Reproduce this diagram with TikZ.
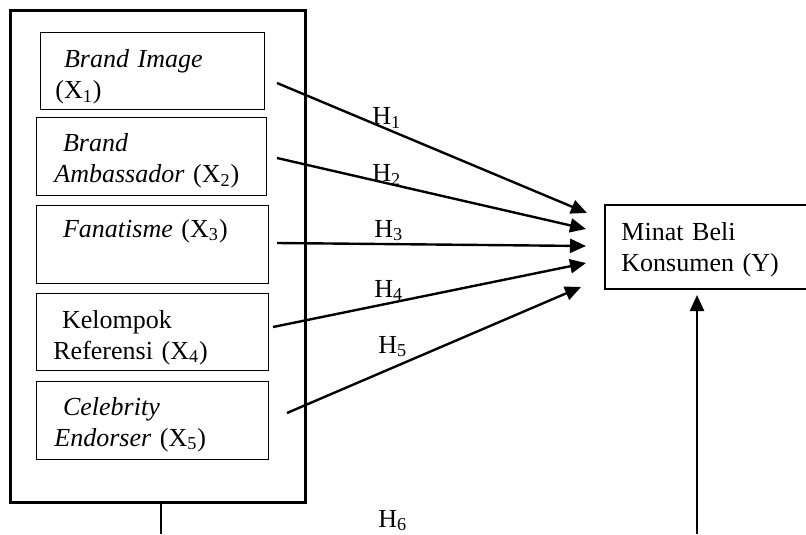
\documentclass[tikz,border=0pt]{standalone}
\usepackage{fontspec}
\setmainfont{Liberation Serif}
\usetikzlibrary{arrows.meta}

\begin{document}
\begin{tikzpicture}[x=0.5pt, y=-0.5pt,
    var/.style={draw, line width=0.5pt, anchor=north west, inner sep=0pt, outer sep=0pt},
    txt/.style={anchor=base west, inner sep=0pt, text width=110pt, align=left},
    hlbl/.style={anchor=base west, inner sep=0pt},
    hyp/.style={-{Triangle[length=8pt, width=7pt]}, line width=1.2pt}]
    \fontsize{13}{15.5}\selectfont
    \useasboundingbox (0,0) rectangle (806,534);
    % frame round the independent variables
    \node[draw, line width=1.5pt, anchor=north west, inner sep=0pt, outer sep=0pt,
          minimum width=147.5pt, minimum height=245.5pt] (frame) at (10,11) {};
    \node[var, minimum width=112pt, minimum height=38.5pt] (x1) at (40,33) {};
    \node[var, minimum width=115pt, minimum height=38.5pt] (x2) at (36,118) {};
    \node[var, minimum width=116pt, minimum height=39pt] (x3) at (36,205) {};
    \node[var, minimum width=116pt, minimum height=38.5pt] (x4) at (36,293) {};
    \node[var, minimum width=116pt, minimum height=39pt] (x5) at (36,381) {};
    \node[txt] (t1) at (55,68) {\ \textit{Brand Image}\\(X\textsubscript{1})};
    \node[txt] (t2) at (54,152) {\ \textit{Brand}\\\textit{Ambassador} (X\textsubscript{2})};
    \node[txt] (t3) at (54,237) {\ \textit{Fanatisme} (X\textsubscript{3})};
    \node[txt] (t4) at (53,328) {\ Kelompok\\Referensi (X\textsubscript{4})};
    \node[txt] (t5) at (54,415) {\ \textit{Celebrity}\\\textit{Endorser} (X\textsubscript{5})};
    % dependent variable
    \node[var, line width=0.6pt, minimum width=101.5pt, minimum height=42pt] (y) at (605,205) {};
    \node[txt] (ty) at (621,240) {Minat Beli\\Konsumen (Y)};
    % hypotheses
    \coordinate (s1) at (277,83);  \coordinate (e1) at (587,213);
    \coordinate (s2) at (277,158); \coordinate (e2) at (586,229);
    \coordinate (s3) at (277,243); \coordinate (e3) at (586,246);
    \coordinate (s4) at (273,327); \coordinate (e4) at (586,263);
    \coordinate (s5) at (287,413); \coordinate (e5) at (581,287);
    \foreach \i in {1,...,5}
        \draw[hyp] (s\i) -- (e\i);
    \node[hlbl] (h1) at (372,125) {H\textsubscript{1}};
    \node[hlbl] (h2) at (372,182) {H\textsubscript{2}};
    \node[hlbl] (h3) at (374,237) {H\textsubscript{3}};
    \node[hlbl] (h4) at (374,297) {H\textsubscript{4}};
    \node[hlbl] (h5) at (378,353) {H\textsubscript{5}};
    \node[hlbl] (h6) at (378,527) {H\textsubscript{6}};
    \coordinate (b6) at (161,534);
    \coordinate (c6) at (697,534);
    \draw[line width=1.2pt] (b6 |- frame.south) -- (b6);
    \draw[hyp, shorten >=3pt] (c6) -- (c6 |- y.south);
\end{tikzpicture}
\end{document}
